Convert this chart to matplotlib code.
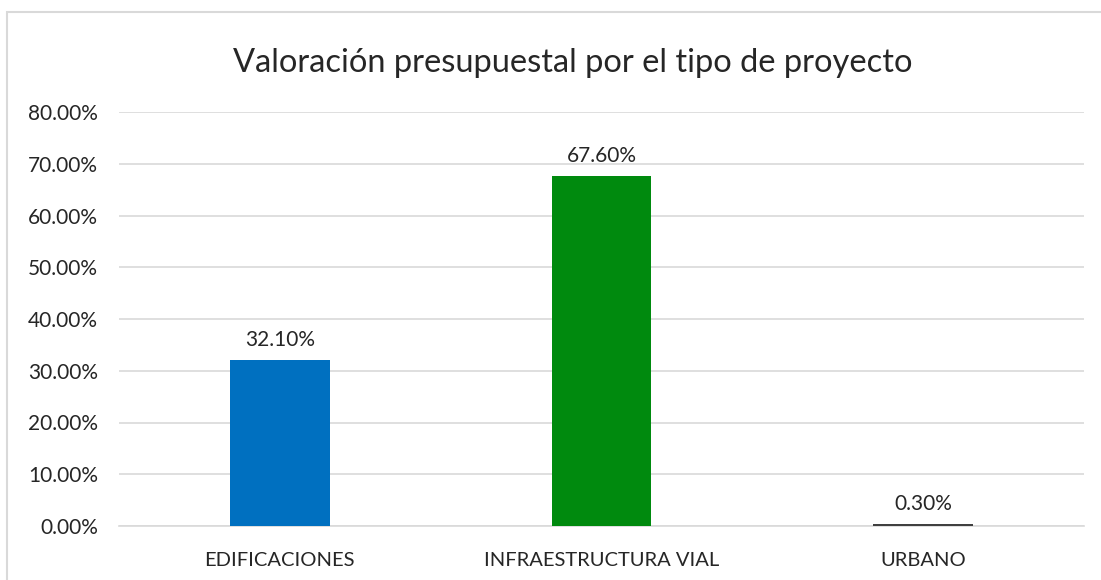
import matplotlib
matplotlib.use("Agg")
import matplotlib.pyplot as plt
from matplotlib.patches import Rectangle

categories = ["EDIFICACIONES", "INFRAESTRUCTURA VIAL", "URBANO"]
values = [32.10, 67.60, 0.30]
bar_colors = ["#0070C0", "#008A0E", "#404040"]
yticks = [0, 10, 20, 30, 40, 50, 60, 70, 80]

plt.rcParams['font.family'] = ['Lato', 'DejaVu Sans']

W, H = 1101, 580
fig = plt.figure(figsize=(W / 100, H / 100), dpi=100)
ax = fig.add_axes([119 / W, 1 - 526 / H, (1084 - 119) / W, (526 - 112) / H])

# outer chart frame (cut off at right and bottom like the reference)
fig.patches.append(Rectangle((7 / W, -0.1), 1.2, 1 - 12 / H + 0.1, transform=fig.transFigure,
                             fill=False, edgecolor="#d9d9d9", linewidth=1.5))

x = range(len(categories))
bars = ax.bar(x, values, width=0.31, color=bar_colors, zorder=3)
for b, v in zip(bars, values):
    ax.text(b.get_x() + b.get_width() / 2, v + 2.0, f"{v:.2f}%", ha="center", va="bottom",
            fontsize=15, color="#262626")

ax.set_xlim(-0.5, 2.5)
ax.set_ylim(0, 80)
ax.set_yticks(yticks)
ax.set_yticklabels([f"{t:.2f}%" for t in yticks], fontsize=15, color="#262626")
ax.set_xticks(list(x))
ax.set_xticklabels(categories, fontsize=14.5, color="#262626")
ax.tick_params(length=0)
ax.tick_params(axis="y", pad=15)
ax.tick_params(axis="x", pad=19)
ax.grid(axis="y", color="#d9d9d9", linewidth=1.2, zorder=0)
for s in ["top", "right", "left"]:
    ax.spines[s].set_visible(False)
ax.spines["bottom"].set_color("#d9d9d9")
ax.spines["bottom"].set_linewidth(1.2)

fig.text(0.5 * (230 + 915) / W, 1 - 63 / H, "Valoración presupuestal por el tipo de proyecto",
         ha="center", va="center", fontsize=23.5, color="#262626")

fig.savefig("out.png", dpi=100)
